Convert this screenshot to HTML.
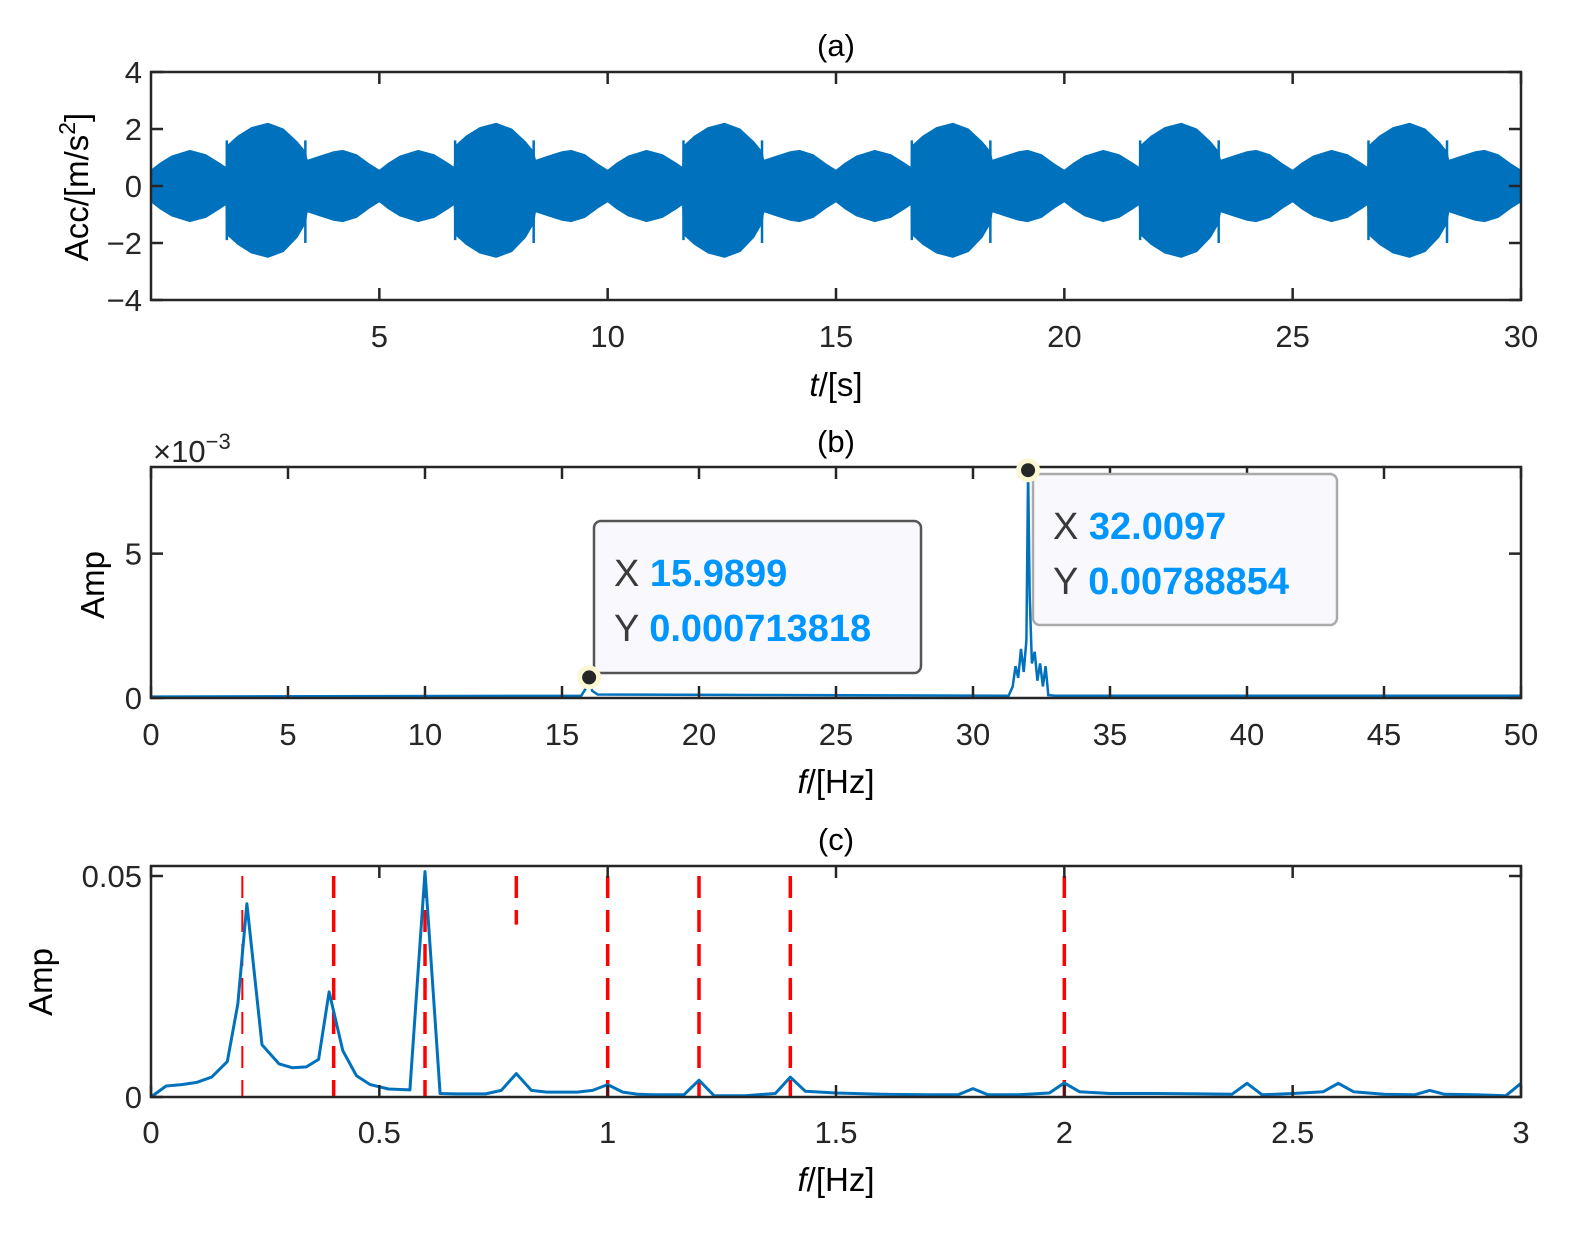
<!DOCTYPE html>
<html><head><meta charset="utf-8"><style>
html,body{margin:0;padding:0;background:#fff;}
svg{display:block;font-family:"Liberation Sans",Arial,sans-serif;}
</style></head><body>
<svg id="fig" width="1579" height="1239" viewBox="0 0 1579 1239" xmlns="http://www.w3.org/2000/svg">
<rect width="1579" height="1239" fill="#fff"/>
<g id="gA"></g>
<g id="gB"></g>
<g id="gC"></g>
</svg>
<script>
// ---- Panel (a) data: envelope over one 5 s period ----
const envT     = [0, 0.2, 0.45, 0.85, 1.2, 1.5, 1.64, 1.66, 1.9, 2.2, 2.56, 2.9, 3.2, 3.38, 3.42, 3.7, 4.0, 4.2, 4.5, 4.8, 5.0];
const envUpper = [0.55, 0.8, 1.05, 1.25, 1.1, 0.8, 0.65, 1.4, 1.75, 2.05, 2.2, 2.0, 1.55, 1.2, 0.9, 1.05, 1.2, 1.25, 1.1, 0.75, 0.55];
const envLower = [-0.55, -0.8, -1.05, -1.25, -1.1, -0.8, -0.65, -1.7, -2.05, -2.35, -2.5, -2.3, -1.8, -1.3, -0.9, -1.05, -1.2, -1.25, -1.1, -0.75, -0.55];
const periods  = [0, 5, 10, 15, 20, 25];
const spikeT   = [1.66, 3.38];
const spikeTop = [1.6, 1.6];
const spikeBot = [-1.9, -2.0];
const aXTicks  = [5, 10, 15, 20, 25, 30];
const aYTicks  = [-4, -2, 0, 2, 4];
const aYLabels = ["\u22124", "\u22122", "0", "2", "4"];
// ---- Panel (b) data ----
const bFreq = [0, 15.7, 15.85, 15.99, 16.1, 16.3, 31.3, 31.45, 31.55, 31.65, 31.75, 31.85, 31.95, 32.01, 32.07, 32.15, 32.25, 32.35, 32.45, 32.55, 32.65, 32.75, 33.0, 50];
const bAmp  = [0.00005, 0.00008, 0.0003, 0.00071, 0.00025, 0.00012, 0.00008, 0.0004, 0.0011, 0.0007, 0.0017, 0.0009, 0.002, 0.00789, 0.0035, 0.0012, 0.0016, 0.0006, 0.0012, 0.0004, 0.0011, 0.0001, 0.00008, 0.00008];
const bXTicks = [0, 5, 10, 15, 20, 25, 30, 35, 40, 45, 50];
const bYTicks = [0, 0.005];
const bYLabels = ["0", "5"];
const tip1 = {x: 15.9899, y: 0.000713818};
const tip2 = {x: 32.0097, y: 0.00788854};
// ---- Panel (c) data ----
const cFreq = [0, 0.033, 0.067, 0.1, 0.133, 0.167, 0.19, 0.21, 0.243, 0.28, 0.31, 0.34, 0.367, 0.39, 0.42, 0.45, 0.48, 0.52, 0.567, 0.6, 0.633, 0.667, 0.7, 0.733, 0.767, 0.8, 0.833, 0.867, 0.9, 0.933, 0.967, 1.0, 1.033, 1.067, 1.1, 1.133, 1.167, 1.2, 1.233, 1.3, 1.367, 1.4, 1.433, 1.5, 1.6, 1.7, 1.767, 1.8, 1.833, 1.9, 1.967, 2.0, 2.033, 2.1, 2.2, 2.3, 2.367, 2.4, 2.433, 2.5, 2.567, 2.6, 2.633, 2.7, 2.767, 2.8, 2.833, 2.9, 2.967, 3.0];
const cAmp  = [0, 0.0025, 0.0028, 0.0033, 0.0045, 0.008, 0.021, 0.0437, 0.0118, 0.0075, 0.0066, 0.0068, 0.0085, 0.0238, 0.0105, 0.0048, 0.0028, 0.0018, 0.0016, 0.051, 0.0008, 0.0007, 0.0007, 0.0007, 0.0015, 0.0053, 0.0015, 0.0011, 0.0011, 0.0011, 0.0015, 0.0028, 0.0011, 0.0006, 0.0005, 0.0005, 0.0005, 0.0038, 0.0003, 0.0003, 0.0008, 0.0045, 0.0013, 0.0009, 0.0006, 0.0005, 0.0005, 0.0019, 0.0005, 0.0005, 0.0009, 0.0032, 0.0012, 0.0008, 0.0008, 0.0007, 0.0006, 0.0031, 0.0005, 0.0008, 0.0012, 0.0031, 0.0012, 0.0006, 0.0005, 0.0015, 0.0006, 0.0005, 0.0003, 0.0031];
const cLines = [0.2, 0.4, 0.6, 0.8, 1.0, 1.2, 1.4, 2.0];
const cLineTop = [0.05, 0.05, 0.05, 0.05, 0.05, 0.05, 0.05, 0.05];
const cLineBot = [0, 0, 0, 0.039, 0, 0, 0, 0];
const cXTicks = [0, 0.5, 1, 1.5, 2, 2.5, 3];
const cXLabels = ["0", "0.5", "1", "1.5", "2", "2.5", "3"];
const cYTicks = [0, 0.05];
const cYLabels = ["0", "0.05"];

const NS = "http://www.w3.org/2000/svg";
function mk(parent, tag, attrs, text) {
  const e = document.createElementNS(NS, tag);
  for (const k in attrs) e.setAttribute(k, attrs[k]);
  if (text !== undefined) e.textContent = text;
  parent.appendChild(e);
  return e;
}
function lin(d0, d1, r0, r1) { return v => r0 + (v - d0) * (r1 - r0) / (d1 - d0); }
const L = 151, R = 1521, BLUE = "#0072bd", AX = "#262626", FS = 31;

function frame(g, T, B, xs, ys, xTicks, xLabels, yTicks, yLabels, labelY) {
  xTicks.forEach((t, i) => {
    const x = xs(t);
    let e = mk(g, "line", {x1: x, x2: x, y1: B, y2: B - 12, stroke: AX, "stroke-width": 2.5});
    
    
    e = mk(g, "line", {x1: x, x2: x, y1: T, y2: T + 12, stroke: AX, "stroke-width": 2.5});
    
    
    e = mk(g, "text", {x: x, y: labelY, "text-anchor": "middle", "font-size": FS, fill: AX}, xLabels[i]);
    
    
  });
  yTicks.forEach((t, i) => {
    const y = ys(t);
    let e = mk(g, "line", {x1: L, x2: L + 12, y1: y, y2: y, stroke: AX, "stroke-width": 2.5});
    
    
    e = mk(g, "line", {x1: R, x2: R - 12, y1: y, y2: y, stroke: AX, "stroke-width": 2.5});
    
    
    e = mk(g, "text", {x: L - 9, y: y + 11, "text-anchor": "end", "font-size": FS, fill: AX}, yLabels[i]);
    
    
  });
  const b = mk(g, "rect", {x: L, y: T, width: R - L, height: B - T, fill: "none", stroke: AX, "stroke-width": 2.5});
  
  
}

// ---------- Panel A ----------
(function () {
  const g = document.getElementById("gA");
  const T = 72, B = 300;
  const xs = lin(0, 30, L, R), ys = lin(-4, 4, B, T);
  let up = [], lo = [];
  periods.forEach(p => envT.forEach((t, i) => {
    up.push(xs(p + t).toFixed(1) + "," + ys(envUpper[i]).toFixed(1));
    lo.push(xs(p + t).toFixed(1) + "," + ys(envLower[i]).toFixed(1));
  }));
  const poly = mk(g, "polygon", {points: up.concat(lo.reverse()).join(" "), fill: BLUE, stroke: BLUE, "stroke-width": 1});
  
  
  periods.forEach(p => spikeT.forEach((t, i) => {
    const s = mk(g, "line", {x1: xs(p + t), x2: xs(p + t), y1: ys(spikeTop[i]), y2: ys(spikeBot[i]), stroke: BLUE, "stroke-width": 2.5});
    
    
  }));
  frame(g, T, B, xs, ys, aXTicks, aXTicks.map(String), aYTicks, aYLabels, 347);
  let e = mk(g, "text", {x: 836, y: 56, "text-anchor": "middle", "font-size": FS, fill: "#000"}, "(a)");
   
  e = mk(g, "text", {x: 836, y: 396, "text-anchor": "middle", "font-size": 33, fill: "#000"});
  e.innerHTML = '<tspan font-style="italic">t</tspan>/[s]';
   
  e = mk(g, "text", {transform: "translate(88,187) rotate(-90)", "text-anchor": "middle", "font-size": 33, fill: "#000"});
  e.innerHTML = 'Acc/[m/s<tspan dy="-13" font-size="23">2</tspan><tspan dy="13">]</tspan>';
   
})();

// ---------- Panel B ----------
(function () {
  const g = document.getElementById("gB");
  const T = 467, B = 698;
  const xs = lin(0, 50, L, R), ys = lin(0, 0.008, B, T);
  const pts = bFreq.map((f, i) => xs(f).toFixed(1) + "," + ys(bAmp[i]).toFixed(1)).join(" ");
  const pl = mk(g, "polyline", {points: pts, fill: "none", stroke: BLUE, "stroke-width": 2.5});
  
  
  frame(g, T, B, xs, ys, bXTicks, bXTicks.map(String), bYTicks, bYLabels, 745);
  let e = mk(g, "text", {x: 836, y: 452, "text-anchor": "middle", "font-size": FS, fill: "#000"}, "(b)");
   
  e = mk(g, "text", {x: 153, y: 462, "font-size": FS, fill: AX});
  e.innerHTML = '\u00d710<tspan dy="-13" font-size="22">\u22123</tspan>';
   
  e = mk(g, "text", {x: 836, y: 793, "text-anchor": "middle", "font-size": 33, fill: "#000"});
  e.innerHTML = '<tspan font-style="italic">f</tspan>/[Hz]';
   
  e = mk(g, "text", {transform: "translate(104,585) rotate(-90)", "text-anchor": "middle", "font-size": 33, fill: "#000"}, "Amp");
   
  [[tip1, 594, 521, 327, 152, "#555", "15.9899", "0.000713818"], [tip2, 1033, 474, 304, 151, "#aaa", "32.0097", "0.00788854"]].forEach((d, k) => {
    const [tp, bx, by, bw, bh, bc, xl, yl] = d;
    const tg = mk(g, "g", {});
    
    
    let r = mk(tg, "rect", {x: bx, y: by, width: bw, height: bh, rx: 7, fill: "#f9f9fd", stroke: bc, "stroke-width": 2.5});
     
    let t = mk(tg, "text", {x: bx + 20, y: by + 65, "font-size": 38, fill: "#3a3a3a"});
    t.innerHTML = 'X <tspan fill="#0096ff" font-weight="bold">' + xl + '</tspan>';
     
    t = mk(tg, "text", {x: bx + 20, y: by + 120, "font-size": 38, fill: "#3a3a3a"});
    t.innerHTML = 'Y <tspan fill="#0096ff" font-weight="bold">' + yl + '</tspan>';
     
    const cx = xs(tp.x), cy = ys(tp.y);
    let c = mk(tg, "circle", {cx: cx, cy: cy, r: 12, fill: "#fbf7d2"});
     
    c = mk(tg, "circle", {cx: cx, cy: cy, r: 7, fill: "#262626"});
     
  });
})();

// ---------- Panel C ----------
(function () {
  const g = document.getElementById("gC");
  const T = 866, B = 1097;
  const xs = lin(0, 3, L, R), ys = lin(0, 0.05, B, 876);
  cLines.forEach((f, i) => {
    const l = mk(g, "line", {x1: xs(f), x2: xs(f), y1: ys(cLineTop[i]), y2: ys(cLineBot[i]), stroke: "#ff0000", "stroke-width": i === 0 ? 2 : 3.5, "stroke-dasharray": "22,12"});
    
    
  });
  const pts = cFreq.map((f, i) => xs(f).toFixed(1) + "," + ys(cAmp[i]).toFixed(1)).join(" ");
  const pl = mk(g, "polyline", {points: pts, fill: "none", stroke: BLUE, "stroke-width": 3, "stroke-linejoin": "round"});
  
  
  frame(g, T, B, xs, ys, cXTicks, cXLabels, cYTicks, cYLabels, 1143);
  let e = mk(g, "text", {x: 836, y: 850, "text-anchor": "middle", "font-size": FS, fill: "#000"}, "(c)");
   
  e = mk(g, "text", {x: 836, y: 1191, "text-anchor": "middle", "font-size": 33, fill: "#000"});
  e.innerHTML = '<tspan font-style="italic">f</tspan>/[Hz]';
   
  e = mk(g, "text", {transform: "translate(52,982) rotate(-90)", "text-anchor": "middle", "font-size": 33, fill: "#000"}, "Amp");
   
})();
</script>
</body></html>
